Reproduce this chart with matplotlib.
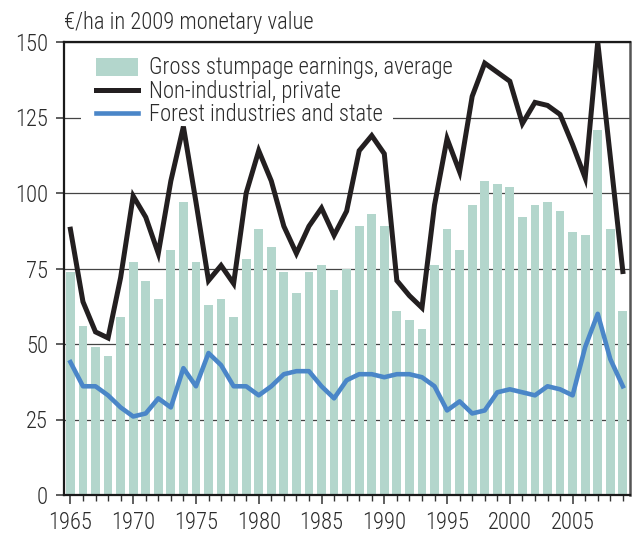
#!/usr/bin/env python3
import matplotlib

matplotlib.use("Agg")
from matplotlib import pyplot as plt
from matplotlib.patches import Rectangle
from matplotlib.ticker import MultipleLocator

years = list(range(1965, 2010))

gross_avg = [
    74, 56, 49, 46, 59, 77, 71, 65, 81, 97,
    77, 63, 65, 59, 78, 88, 82, 74, 67, 74,
    76, 68, 75, 89, 93, 89, 61, 58, 55, 76,
    88, 81, 96, 104, 103, 102, 92, 96, 97, 94,
    87, 86, 121, 88, 61,
]

non_industrial = [
    88, 64, 54, 52, 72, 99, 92, 80, 104, 122,
    97, 71, 76, 70, 100, 114, 104, 89, 80, 89,
    95, 86, 94, 114, 119, 113, 71, 66, 62, 96,
    118, 107, 132, 143, 140, 137, 123, 130, 129, 126,
    116, 105, 150, 112, 74,
]

industry_state = [
    44, 36, 36, 33, 29, 26, 27, 32, 29, 42,
    36, 47, 43, 36, 36, 33, 36, 40, 41, 41,
    36, 32, 38, 40, 40, 39, 40, 40, 39, 36,
    28, 31, 27, 28, 34, 35, 34, 33, 36, 35,
    33, 49, 60, 45, 36,
]

labels = [
    "Gross stumpage earnings, average",
    "Non-industrial, private",
    "Forest industries and state",
]

# condensed face first, plain ones as fallback
plt.rcParams["font.family"] = ["Roboto Condensed", "Liberation Sans", "DejaVu Sans"]
plt.rcParams["font.weight"] = "light"

BAR_C = "#b3d6cc"
BLACK_C = "#231f20"
BLUE_C = "#4a86c8"
TXT_C = "#2b2b2b"
FS = 16.3

fig = plt.figure(figsize=(6.39, 5.33), dpi=100)
ax = fig.add_axes([64 / 639, 1 - 495 / 533, 566 / 639, 453 / 533])

bars = ax.bar(years, gross_avg, width=0.7, color=BAR_C, zorder=2)
(l1,) = ax.plot(years, non_industrial, color=BLACK_C, lw=3.6,
                solid_joinstyle="miter", zorder=3)
(l2,) = ax.plot(years, industry_state, color=BLUE_C, lw=3.3,
                solid_joinstyle="round", zorder=3)

ax.set_xlim(1964.49, 2009.57)
ax.set_ylim(0, 150)
ax.yaxis.set_major_locator(MultipleLocator(25))
ax.xaxis.set_major_locator(MultipleLocator(5))
ax.xaxis.set_minor_locator(MultipleLocator(1))

ax.set_axisbelow(True)
ax.grid(axis="y", color="#444444", lw=0.9)
ax.grid(axis="x", visible=False)

ax.tick_params(axis="both", which="major", labelsize=FS, colors="#333333",
               labelcolor=TXT_C, width=1.1, direction="out")
ax.tick_params(axis="y", length=5.5, pad=6)
ax.tick_params(axis="x", which="major", length=6.5, pad=5)
ax.tick_params(axis="x", which="minor", length=4, width=1.0, colors="#333333")

for side in ["left", "top", "bottom"]:
    ax.spines[side].set_color("#1a1a1a")
    ax.spines[side].set_linewidth(1.6)
ax.spines["right"].set_color("#555555")
ax.spines["right"].set_linewidth(1.8)

# white patch behind the legend rows hides part of the 125 gridline
ax.add_patch(Rectangle((17 / 566, 0.826), 312 / 566, 0.16,
                       transform=ax.transAxes, facecolor="white",
                       edgecolor="none", zorder=1))

leg = ax.legend([bars, l1, l2], labels, loc="upper left",
                bbox_to_anchor=(32 / 566, 0.968), borderaxespad=0,
                borderpad=0, frameon=False, fontsize=FS, handlelength=1.85,
                handletextpad=0.5, labelspacing=0.02, handleheight=0.85)
leg.set_zorder(5)
for t in leg.get_texts():
    t.set_color(TXT_C)

fig.text(64 / 639, 1 - 29 / 533, "€/ha in 2009 monetary value",
         fontsize=FS, color=TXT_C, ha="left", va="baseline")

fig.savefig("out.png", dpi=100)
